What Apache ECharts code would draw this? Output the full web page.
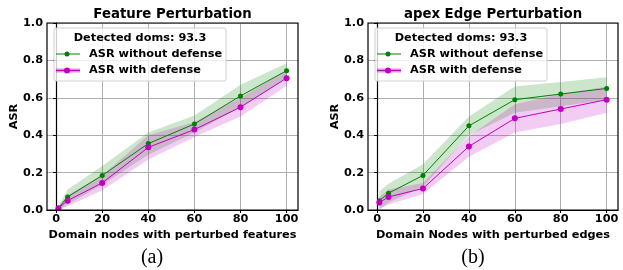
<!DOCTYPE html>
<html><head><meta charset="utf-8">
<script src="https://cdn.jsdelivr.net/npm/echarts@6/dist/echarts.min.js"></script>
<style>html,body{margin:0;padding:0;background:#fff}#c{width:623px;height:270px}</style>
</head><body><div id="c"></div>
<script>
const xValues = [1, 5, 20, 40, 60, 80, 100];
const xTicks = [0, 20, 40, 60, 80, 100];
const yTicks = [0, 0.2, 0.4, 0.6, 0.8, 1.0];

const featNoDef = [0.01, 0.07, 0.185, 0.355, 0.46, 0.61, 0.745];
const featNoDefStd = [0.01, 0.04, 0.05, 0.06, 0.045, 0.06, 0.04];
const featDef = [0.01, 0.05, 0.145, 0.335, 0.43, 0.55, 0.705];
const featDefStd = [0.01, 0.03, 0.04, 0.065, 0.04, 0.05, 0.04];

const edgeNoDef = [0.05, 0.09, 0.185, 0.45, 0.59, 0.62, 0.65];
const edgeNoDefStd = [0.05, 0.05, 0.06, 0.05, 0.07, 0.065, 0.06];
const edgeDef = [0.04, 0.07, 0.115, 0.34, 0.49, 0.54, 0.59];
const edgeDefStd = [0.03, 0.04, 0.03, 0.055, 0.075, 0.08, 0.07];

const titles = ['Feature Perturbation', 'apex Edge Perturbation'];
const xNames = ['Domain nodes with perturbed features', 'Domain Nodes with perturbed edges'];
const legendTitle = 'Detected doms: 93.3';
const legendNames = ['ASR without defense', 'ASR with defense'];
const captions = ['(a)', '(b)'];

const GREEN = '#008000', MAG = '#c000c0';
const F = 'DejaVu Sans';

const grids = [
  {left: 47, top: 23, width: 251, height: 187},
  {left: 368, top: 23, width: 250, height: 187}
];

function band(gi, mean, std, color) {
  return {
    type: 'custom', xAxisIndex: gi, yAxisIndex: gi, silent: true, z: 1,
    data: [0],
    renderItem: function (params, api) {
      const up = xValues.map((x, i) => api.coord([x, mean[i] + std[i]]));
      const lo = xValues.map((x, i) => api.coord([x, mean[i] - std[i]])).reverse();
      return {type: 'polygon', shape: {points: up.concat(lo)}, style: {fill: color, opacity: 0.2}};
    }
  };
}
function line(gi, mean, color, size, name) {
  return {
    type: 'line', name: name, xAxisIndex: gi, yAxisIndex: gi, z: 3,
    data: xValues.map((x, i) => [x, mean[i]]),
    symbol: 'circle', symbolSize: size, showSymbol: true,
    lineStyle: {color: color, width: 1}, itemStyle: {color: color},
    animation: false
  };
}

const xAxes = [0, 1].map(i => ({
  type: 'value', gridIndex: i, min: -3.95, max: 104.95,
  name: xNames[i], nameLocation: 'middle', nameGap: 20,
  nameTextStyle: {fontFamily: F, fontWeight: 'bold', fontSize: 11.3, color: '#000'},
  axisLine: {show: true, onZero: false, lineStyle: {color: '#000', width: 1.2}},
  axisTick: {show: true, length: 3, lineStyle: {color: '#000'}, customValues: xTicks},
  axisLabel: {fontFamily: F, fontWeight: 'bold', fontSize: 11.3, color: '#000', margin: 4, customValues: xTicks},
  splitLine: {show: true, lineStyle: {color: '#b0b0b0', width: 1}}
}));
const yAxes = [0, 1].map(i => ({
  type: 'value', gridIndex: i, min: 0, max: 1, interval: 0.2,
  name: 'ASR', nameLocation: 'middle', nameGap: 26, nameRotate: 90,
  nameTextStyle: {fontFamily: F, fontWeight: 'bold', fontSize: 11.3, color: '#000'},
  axisLine: {show: true, lineStyle: {color: '#000', width: 1.2}},
  axisTick: {show: true, length: 3, lineStyle: {color: '#000'}},
  axisLabel: {fontFamily: F, fontWeight: 'bold', fontSize: 11.3, color: '#000', margin: 4,
    formatter: v => v.toFixed(1)},
  splitLine: {show: true, lineStyle: {color: '#b0b0b0', width: 1}}
}));

const graphic = [];
grids.forEach((g, i) => {
  graphic.push({type: 'rect', z: 10, silent: true,
    shape: {x: g.left, y: g.top, width: g.width, height: g.height},
    style: {fill: 'none', stroke: '#000', lineWidth: 1.2}});
  graphic.push({type: 'text', z: 10, x: g.left + g.width / 2, y: 15,
    style: {text: titles[i], font: 'bold 13.3px "DejaVu Sans"', fill: '#000', align: 'center', verticalAlign: 'middle'}});
  const lx = g.left + 7, ly = g.top + 5;
  graphic.push({type: 'rect', z: 11, shape: {x: lx, y: ly, width: 172, height: 53, r: 2},
    style: {fill: 'rgba(255,255,255,0.8)', stroke: '#d0d0d0', lineWidth: 1}});
  graphic.push({type: 'text', z: 12, x: lx + 86, y: ly + 10,
    style: {text: legendTitle, font: 'bold 11.3px "DejaVu Sans"', fill: '#000', align: 'center', verticalAlign: 'middle'}});
  const cols = [GREEN, MAG];
  [0, 1].forEach(k => {
    const yy = ly + 26 + k * 16.5;
    if (k === 1) graphic.push({type: 'line', z: 12, shape: {x1: lx + 2, y1: yy, x2: lx + 26, y2: yy},
      style: {stroke: MAG, opacity: 0.45, lineWidth: 4}});
    graphic.push({type: 'line', z: 12, shape: {x1: lx + 2, y1: yy, x2: lx + 26, y2: yy},
      style: {stroke: cols[k], lineWidth: 1}});
    graphic.push({type: 'circle', z: 13, shape: {cx: lx + 13, cy: yy, r: k ? 3 : 2.5}, style: {fill: cols[k]}});
    graphic.push({type: 'text', z: 12, x: lx + 35, y: yy,
      style: {text: legendNames[k], font: 'bold 11.3px "DejaVu Sans"', fill: '#000', align: 'left', verticalAlign: 'middle'}});
  });
});
graphic.push({type: 'text', x: 152, y: 258, style: {text: captions[0], font: '20px "Liberation Serif"', fill: '#000', align: 'center', verticalAlign: 'middle'}});
graphic.push({type: 'text', x: 473, y: 258, style: {text: captions[1], font: '20px "Liberation Serif"', fill: '#000', align: 'center', verticalAlign: 'middle'}});

const chart = echarts.init(document.getElementById('c'), null, {renderer: 'canvas'});
chart.setOption({
  animation: false,
  grid: grids,
  xAxis: xAxes,
  yAxis: yAxes,
  series: [
    band(0, featNoDef, featNoDefStd, GREEN),
    band(0, featDef, featDefStd, MAG),
    line(0, featNoDef, GREEN, 5, legendNames[0]),
    line(0, featDef, MAG, 6, legendNames[1]),
    band(1, edgeNoDef, edgeNoDefStd, GREEN),
    band(1, edgeDef, edgeDefStd, MAG),
    line(1, edgeNoDef, GREEN, 5, legendNames[0]),
    line(1, edgeDef, MAG, 6, legendNames[1])
  ],
  graphic: graphic
});
</script></body></html>
